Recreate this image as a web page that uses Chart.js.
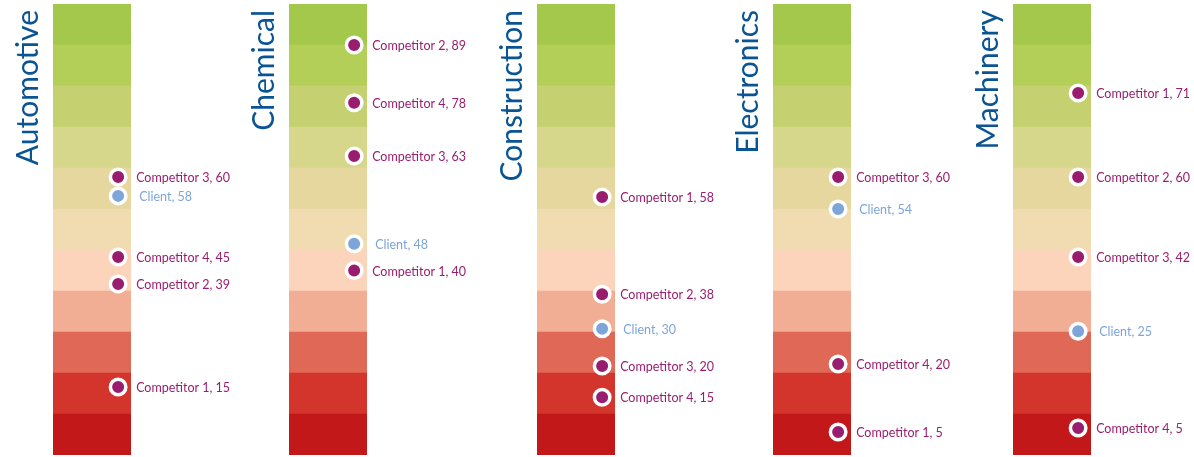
<!DOCTYPE html>
<html>
<head>
<meta charset="utf-8">
<script src="https://cdn.jsdelivr.net/npm/chart.js@4"></script>
<style>
  html, body { margin: 0; padding: 0; background: #fff; }
  #wrap { position: relative; width: 1194px; height: 457px; }
  .panel { position: absolute; top: 0; height: 457px; }
</style>
</head>
<body>
<div id="wrap"></div>
<script>
// industries shown as panels
var industries = ['Automotive', 'Chemical', 'Construction', 'Electronics', 'Machinery'];

// series names
var seriesNames = ['Competitor 1', 'Competitor 2', 'Competitor 3', 'Competitor 4', 'Client'];

// score printed in each label (null = not shown)
var comp1Scores = [15, 40, 58, 5, 71];
var comp2Scores = [39, 89, 38, null, 60];
var comp3Scores = [60, 63, 20, 60, 42];
var comp4Scores = [45, 78, 15, 20, 5];
var clientScores = [58, 48, 30, 54, 25];

// vertical level of each marker on the 0-110 band scale
var comp1Levels = [16.6, 45.0, 62.9, 5.6, 88.3];
var comp2Levels = [41.7, 100.0, 39.2, null, 67.8];
var comp3Levels = [67.8, 72.9, 21.7, 67.8, 48.3];
var comp4Levels = [48.3, 85.9, 14.1, 22.2, 6.6];
var clientLevels = [63.2, 51.5, 30.8, 60.0, 30.2];

// band colours, bottom to top
var bandColors = ['#c2181a', '#d3342b', '#e06857', '#f1ae94', '#fcd4bb',
                  '#f0dcb0', '#e5d79d', '#d6d78a', '#c5d171', '#b3cf57', '#a3c84b'];
var bandSize = 10;

var allScores = [comp1Scores, comp2Scores, comp3Scores, comp4Scores, clientScores];
var allLevels = [comp1Levels, comp2Levels, comp3Levels, comp4Levels, clientLevels];

var purple = '#991d6f';
var blue = '#7ea5d9';
var titleColor = '#0b5494';

// panel geometry
var panelLeft = [0, 236, 484, 720, 960];
var panelWidth = [236, 248, 236, 240, 234];
var axisWidth = 53;
var columnWidth = 78;

// vertical industry name, left of the colour column
var titlePlugin = {
    id: 'panelTitle',
    afterDraw: function (chart) {
        var ctx = chart.ctx;
        ctx.save();
        ctx.translate(chart.chartArea.left - 15, 10);
        ctx.rotate(-Math.PI / 2);
        ctx.font = '30px Lato';
        ctx.fillStyle = titleColor;
        ctx.textAlign = 'right';
        ctx.textBaseline = 'alphabetic';
        ctx.fillText(chart.data.labels[0], 0, 0);
        ctx.restore();
    }
};

// draws "name, score" next to each marker
var labelPlugin = {
    id: 'markerLabels',
    afterDatasetsDraw: function (chart) {
        var ctx = chart.ctx;
        chart.data.datasets.forEach(function (ds, di) {
            if (ds.type !== 'scatter') return;
            var meta = chart.getDatasetMeta(di);
            meta.data.forEach(function (pt, i) {
                var info = ds.labels[i];
                ctx.save();
                ctx.font = '12.5px Lato';
                ctx.fillStyle = info.color;
                ctx.textBaseline = 'middle';
                ctx.textAlign = 'left';
                ctx.fillText(info.text, pt.x + (info.client ? 21 : 18), pt.y + 1);
                ctx.restore();
            });
        });
    }
};

industries.forEach(function (name, p) {
    var div = document.createElement('div');
    div.className = 'panel';
    div.style.left = panelLeft[p] + 'px';
    div.style.width = panelWidth[p] + 'px';
    var canvas = document.createElement('canvas');
    canvas.width = panelWidth[p];
    canvas.height = 457;
    canvas.style.width = panelWidth[p] + 'px';
    canvas.style.height = '457px';
    div.appendChild(canvas);
    document.getElementById('wrap').appendChild(div);

    var datasets = [];

    // markers
    var points = [], colors = [], labels = [];
    seriesNames.forEach(function (s, si) {
        var score = allScores[si][p];
        var level = allLevels[si][p];
        if (score === null) return;
        var isClient = s === 'Client';
        points.push({ x: 0.835, y: level });
        colors.push(isClient ? blue : purple);
        labels.push({ text: s + ', ' + score, color: isClient ? blue : purple, client: isClient });
    });
    datasets.push({
        type: 'scatter',
        data: points,
        labels: labels,
        xAxisID: 'x2',
        pointRadius: 7.75,
        pointHoverRadius: 7.75,
        pointBorderWidth: 3.5,
        pointBackgroundColor: colors,
        pointBorderColor: '#ffffff',
        clip: false,
        order: 0
    });

    // colour bands
    bandColors.forEach(function (c) {
        datasets.push({
            type: 'bar',
            data: [bandSize],
            backgroundColor: c,
            borderWidth: 0,
            barPercentage: 1,
            categoryPercentage: 1,
            grouped: false,
            xAxisID: 'x',
            stack: 'bands',
            order: 1
        });
    });

    new Chart(canvas.getContext('2d'), {
        type: 'bar',
        data: { labels: [name], datasets: datasets },
        plugins: [titlePlugin, labelPlugin],
        options: {
            responsive: false,
            maintainAspectRatio: false,
            animation: false,
            events: [],
            layout: {
                autoPadding: false,
                padding: { top: 4, bottom: 2, left: axisWidth, right: panelWidth[p] - axisWidth - columnWidth }
            },
            plugins: { legend: { display: false }, tooltip: { enabled: false } },
            scales: {
                x: { display: false, stacked: true },
                x2: { type: 'linear', display: false, offset: false, min: 0, max: 1 },
                y: {
                    display: false,
                    stacked: true,
                    min: 0,
                    max: bandColors.length * bandSize
                }
            }
        }
    });
});
</script>
</body>
</html>
